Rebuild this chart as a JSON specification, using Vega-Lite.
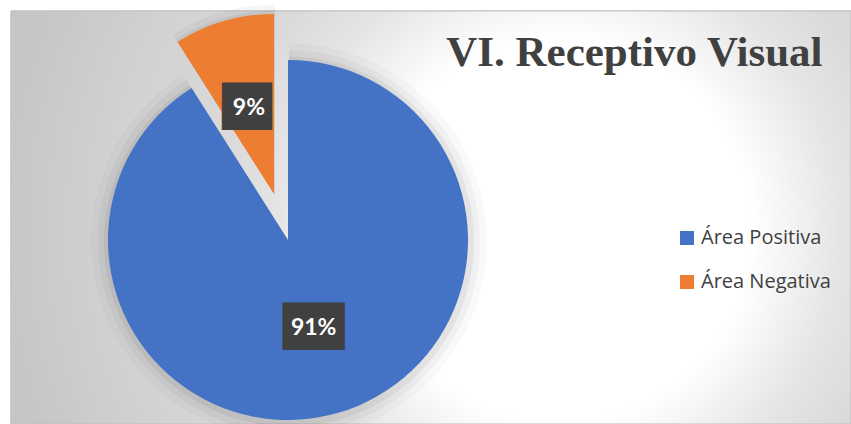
{
  "$schema": "https://vega.github.io/schema/vega-lite/v6.json",
  "width": 840,
  "height": 413,
  "autosize": {"type": "none"},
  "padding": {"left": 11, "top": 11, "right": 0, "bottom": 0},
  "background": "white",
  "config": {"view": {"stroke": null}},
  "title": {
    "text": "VI. Receptivo Visual",
    "font": "Liberation Serif",
    "fontSize": 43,
    "fontWeight": "bold",
    "color": "#404040",
    "orient": "top",
    "anchor": "end",
    "offset": 0,
    "baseline": "alphabetic",
    "dx": -29,
    "dy": 104
  },
  "data": {
    "values": [
      {"area": "Área Positiva", "porcentaje": 91, "etiqueta": "91%"},
      {"area": "Área Negativa", "porcentaje": 9, "etiqueta": "9%"}
    ]
  },
  "layer": [
    {
      "mark": {
        "type": "rect",
        "stroke": "#bfbfbf",
        "strokeWidth": 1,
        "color": {
          "gradient": "radial",
          "x1": 0.654, "y1": 0.515, "r1": 0,
          "x2": 0.654, "y2": 0.515, "r2": 0.667,
          "stops": [
            {"offset": 0, "color": "#ffffff"},
            {"offset": 0.34, "color": "#ffffff"},
            {"offset": 0.5, "color": "#e5e5e5"},
            {"offset": 0.61, "color": "#dadada"},
            {"offset": 0.8, "color": "#d2d2d2"},
            {"offset": 1, "color": "#c6c6c6"}
          ]
        }
      },
      "encoding": {
        "x": {"value": 0},
        "x2": {"value": "width"},
        "y": {"value": 0},
        "y2": {"value": "height"}
      }
    },
    {
      "encoding": {
        "theta": {"field": "porcentaje", "type": "quantitative", "stack": true},
        "order": {"field": "porcentaje", "type": "quantitative", "sort": "descending"}
      },
      "layer": [
        {
          "mark": {"type": "arc", "radius": 198, "xOffset": -142, "yOffset": 24, "color": "black"},
          "encoding": {"opacity": {"condition": {"test": "datum.area === 'Área Positiva'", "value": 0.025}, "value": 0}}
        },
        {
          "mark": {"type": "arc", "radius": 191, "xOffset": -142, "yOffset": 24, "color": "black"},
          "encoding": {"opacity": {"condition": {"test": "datum.area === 'Área Positiva'", "value": 0.035}, "value": 0}}
        },
        {
          "mark": {"type": "arc", "radius": 185, "xOffset": -142, "yOffset": 24, "color": "black"},
          "encoding": {"opacity": {"condition": {"test": "datum.area === 'Área Positiva'", "value": 0.05}, "value": 0}}
        },
        {
          "mark": {"type": "arc", "radius": 191, "xOffset": -156, "yOffset": -22, "color": "black"},
          "encoding": {"opacity": {"condition": {"test": "datum.area === 'Área Negativa'", "value": 0.035}, "value": 0}}
        },
        {
          "mark": {"type": "arc", "radius": 185, "xOffset": -156, "yOffset": -22, "color": "black"},
          "encoding": {"opacity": {"condition": {"test": "datum.area === 'Área Negativa'", "value": 0.05}, "value": 0}}
        },
        {
          "mark": {"type": "arc", "radius": 180, "xOffset": -143, "yOffset": 22.5},
          "encoding": {
            "color": {
              "field": "area", "type": "nominal",
              "scale": {"domain": ["Área Positiva", "Área Negativa"], "range": ["#4472C4", "#ED7D31"]},
              "legend": {
                "orient": "none", "legendX": 666, "legendY": 217, "title": null,
                "symbolType": "square", "symbolSize": 196, "symbolStrokeWidth": 0,
                "labelFont": "Open Sans", "labelFontSize": 20, "labelColor": "#404040",
                "rowPadding": 24, "labelOffset": 4
              }
            },
            "opacity": {"condition": {"test": "datum.area === 'Área Positiva'", "value": 1}, "value": 0}
          }
        },
        {
          "mark": {"type": "arc", "radius": 180, "xOffset": -157, "yOffset": -23.5},
          "encoding": {
            "color": {"field": "area", "type": "nominal"},
            "opacity": {"condition": {"test": "datum.area === 'Área Negativa'", "value": 1}, "value": 0}
          }
        },
        {
          "mark": {"type": "text", "radius": 92, "xOffset": -143, "yOffset": 22.5, "font": "DejaVu Sans", "fontSize": 40, "color": "#404040", "align": "center", "baseline": "middle"},
          "encoding": {
            "text": {"value": "██"},
            "opacity": {"condition": {"test": "datum.area === 'Área Positiva'", "value": 1}, "value": 0}
          }
        },
        {
          "mark": {"type": "text", "radius": 90, "xOffset": -157, "yOffset": -23.5, "dx": 4, "font": "DejaVu Sans", "fontSize": 40, "color": "#404040", "align": "center", "baseline": "middle"},
          "encoding": {
            "text": {"value": "█▋"},
            "opacity": {"condition": {"test": "datum.area === 'Área Negativa'", "value": 1}, "value": 0}
          }
        },
        {
          "mark": {"type": "text", "radius": 92, "xOffset": -143, "yOffset": 22.5, "font": "Lato", "fontSize": 23, "fontWeight": "bold", "color": "white", "align": "center", "baseline": "middle"},
          "encoding": {
            "text": {"field": "etiqueta"},
            "opacity": {"condition": {"test": "datum.area === 'Área Positiva'", "value": 1}, "value": 0}
          }
        },
        {
          "mark": {"type": "text", "radius": 90, "xOffset": -157, "yOffset": -23.5, "font": "Lato", "fontSize": 23, "fontWeight": "bold", "color": "white", "align": "center", "baseline": "middle"},
          "encoding": {
            "text": {"field": "etiqueta"},
            "opacity": {"condition": {"test": "datum.area === 'Área Negativa'", "value": 1}, "value": 0}
          }
        }
      ]
    }
  ]
}
